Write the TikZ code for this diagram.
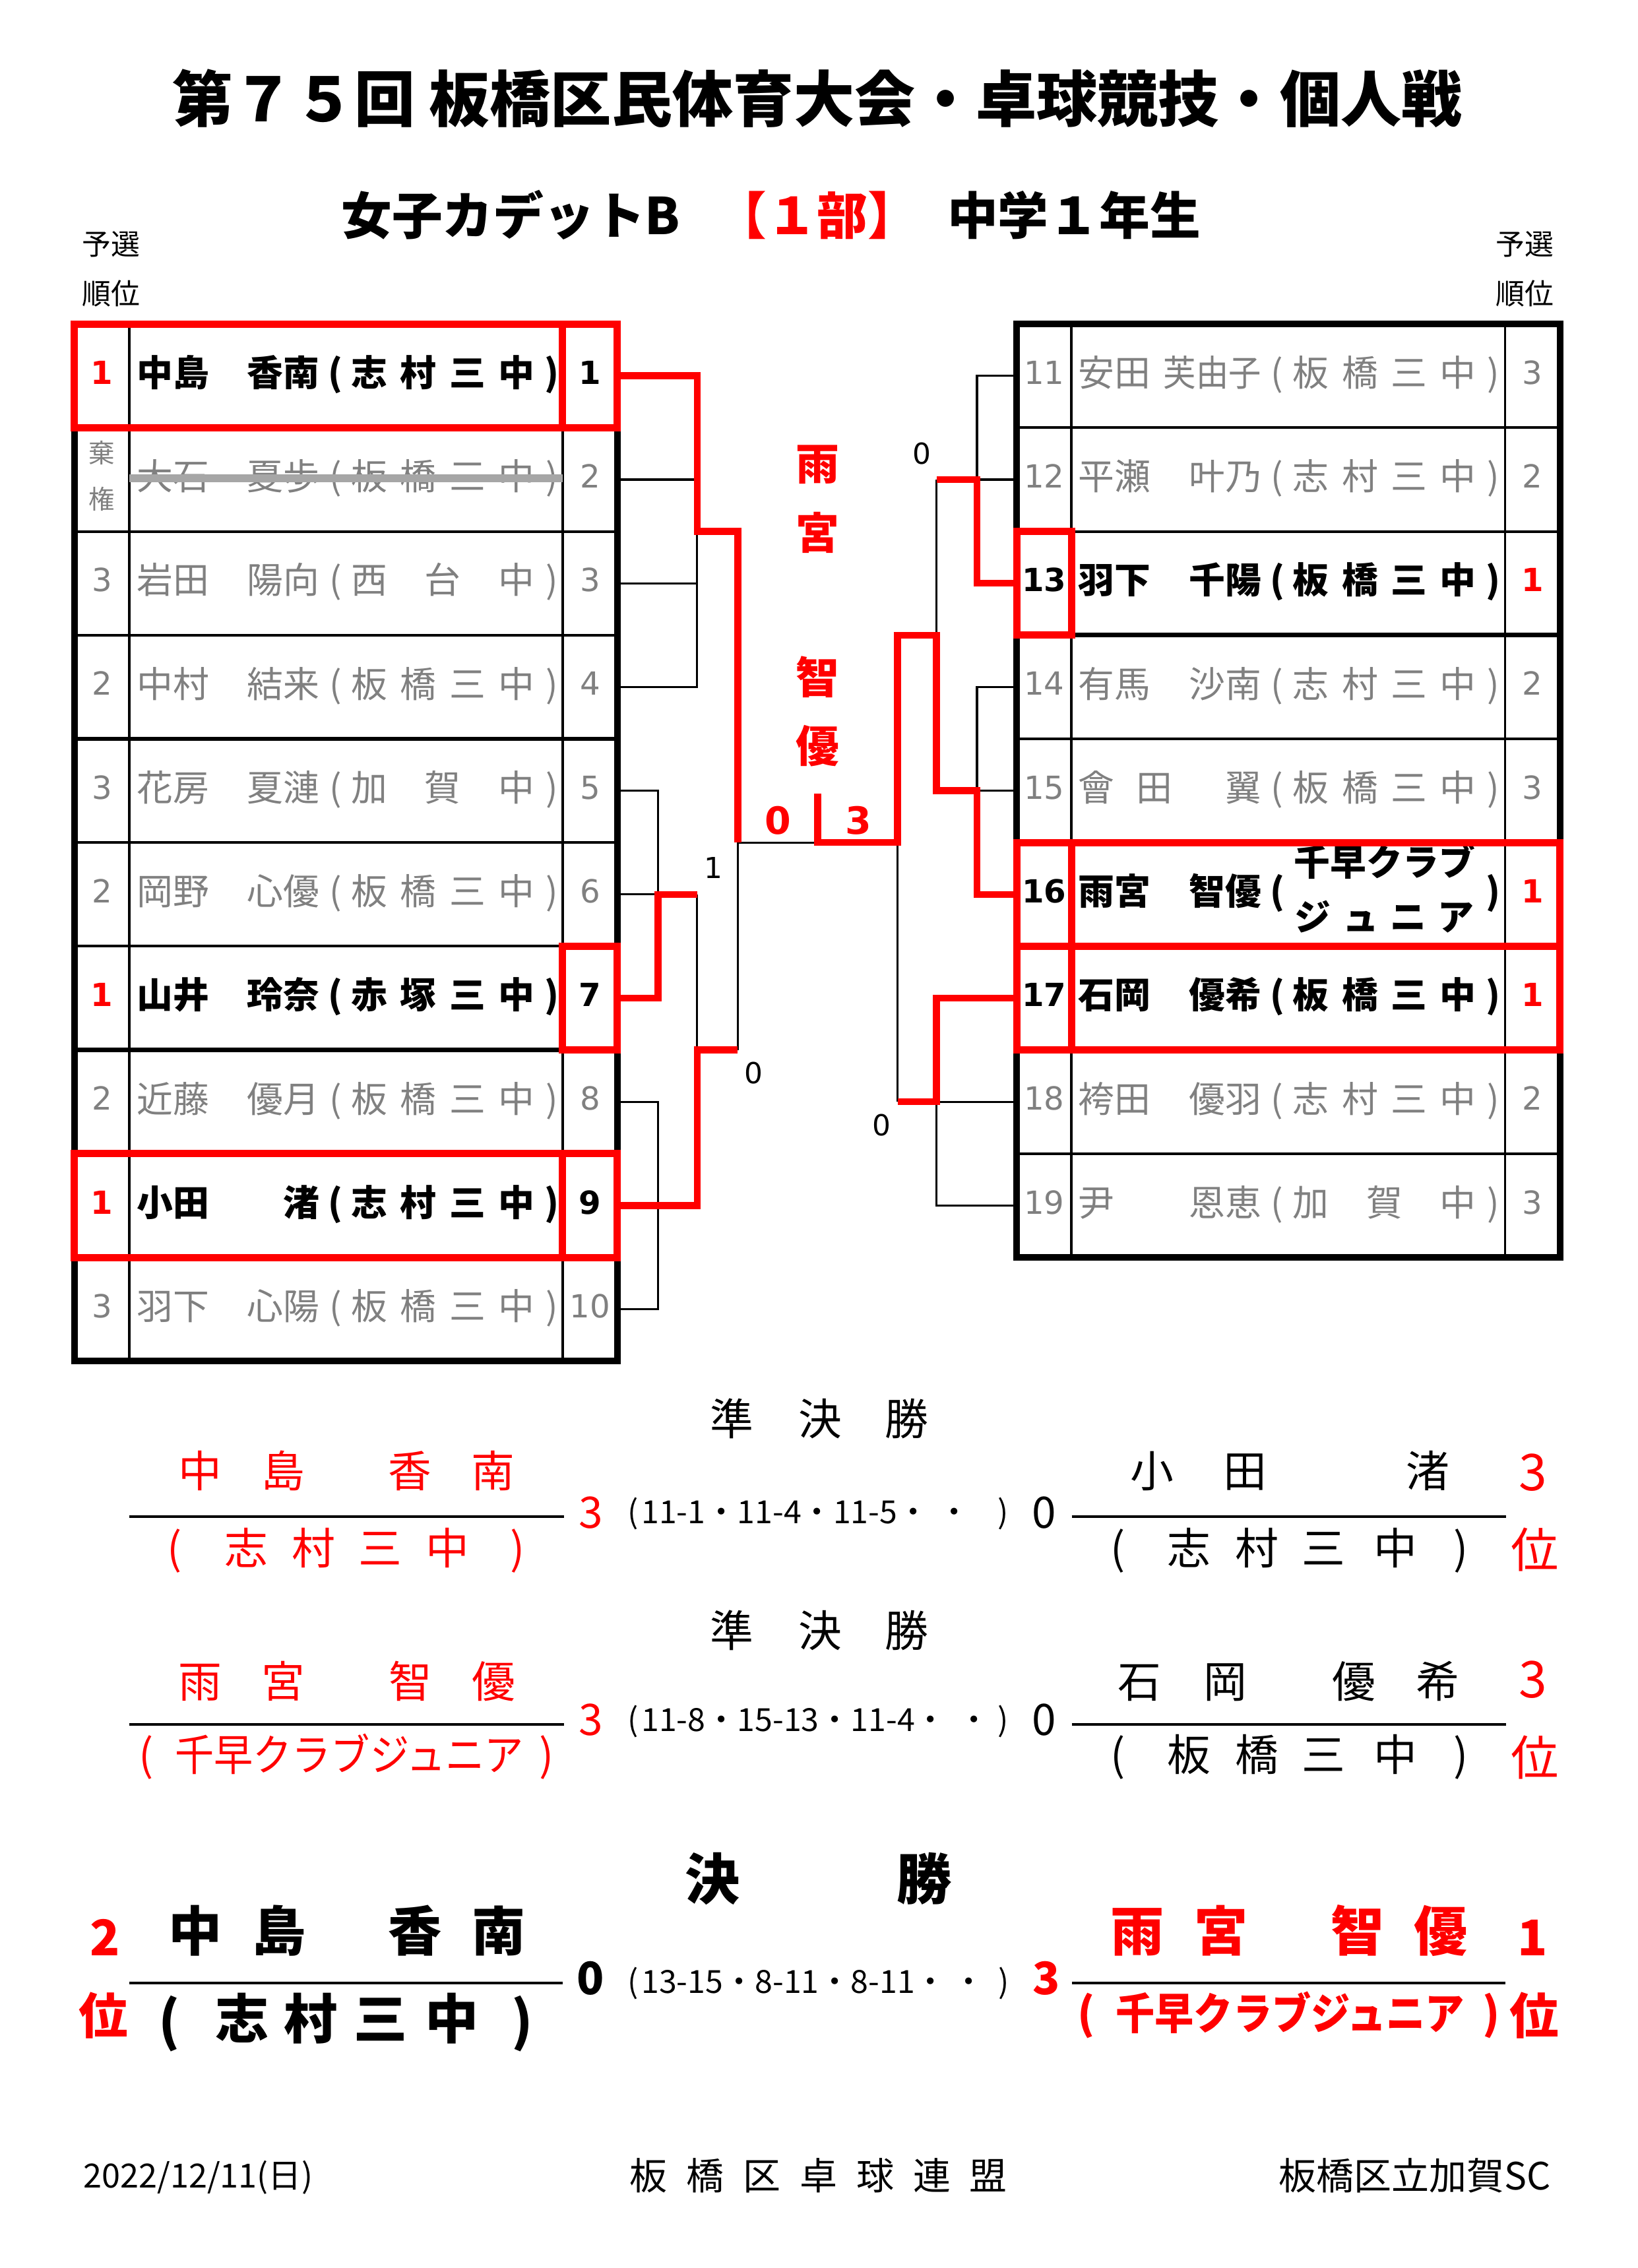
\documentclass[tikz,border=0pt]{standalone}
\usepackage{fontspec}
\usepackage{graphicx}
\setmainfont{Noto Sans CJK JP}
\newfontfamily\dv{DejaVu Sans}
\definecolor{myred}{RGB}{255,0,0}
\definecolor{tgray}{RGB}{128,128,128}
\definecolor{strk}{RGB}{166,166,166}
\newcommand\pname[6]{%
  \node[#4,anchor=west] (fam#1) at ({#2+94.5},#3) {#5};
  \node[#4,anchor=east] (giv#1) at ({#2+221},#3) {#6};
  \node[#4] (lp#1) at ({#2+232},#3) {(};
  \node[#4] (rp#1) at ({#2+381.5},#3) {)};}
\newcommand\sfour[8]{%
  \node[#4] (sa#1) at ({#2+255.4},#3) {#5};
  \node[#4] (sb#1) at ({#2+289.3},#3) {#6};
  \node[#4] (sc#1) at ({#2+323.2},#3) {#7};
  \node[#4] (sd#1) at ({#2+357.1},#3) {#8};}
\newcommand\sthree[7]{%
  \node[#4] (sa#1) at ({#2+255.4},#3) {#5};
  \node[#4] (sb#1) at ({#2+306.2},#3) {#6};
  \node[#4] (sc#1) at ({#2+357.1},#3) {#7};}
\begin{document}
\begin{tikzpicture}[x=0.5pt,y=-0.5pt,
  every node/.style={inner sep=0pt,outer sep=0pt},
  jp/.style n args={3}{font=\fontsize{#1pt}{#1pt}\selectfont#2,text height=0.88*#1pt,text depth=0.12*#1pt,text=#3},
  dg/.style n args={3}{font=\dv\fontsize{#1pt}{#1pt}\selectfont#2,text height=0.73*#1pt,text depth=0pt,text=#3},
  tg/.style={jp={12.5}{}{tgray},yshift=1.15pt},
  tb/.style={jp={12.5}{\bfseries}{black},yshift=1.15pt},
  cell/.style={minimum width=18.9pt,minimum height=35.85pt},
  ng/.style={cell,dg={11}{}{tgray},text depth=2.3pt},
  nb/.style={cell,dg={11}{\bfseries}{black},text depth=2.3pt},
  nr/.style={cell,dg={11}{\bfseries}{myred},text depth=2.3pt},
  lbl/.style={dg={10}{}{black}},
  semi/.style={jp={15}{}{black}},
  semir/.style={jp={15}{}{myred}},
  fin/.style={jp={18.5}{\bfseries}{black}},
  finr/.style={jp={18.5}{\bfseries}{myred}},
  score/.style={jp={11}{}{black}},
  outer/.style={line width=2.3pt},
  rowl/.style={line width=0.9pt},
  grpl/.style={line width=1.5pt},
  coll/.style={line width=0.8pt},
  redbox/.style={draw=myred,line width=2.5pt},
  blk/.style={line width=0.75pt},
  rd/.style={draw=myred,line width=2.4pt},
  resl/.style={line width=1pt}]
\path[use as bounding box,fill=white] (0,0) rectangle (1132,1568);

% ---------- header ----------
\node[jp={21}{\bfseries}{black}] (title) at (565,68) {第７５回 板橋区民体育大会・卓球競技・個人戦};
\node[jp={17.5}{\bfseries}{black},anchor=west] (sub1) at (236,149) {女子カデットB};
\node[jp={17.5}{\bfseries}{myred}] (sub2) at (565,149) {【１部】};
\node[jp={17.5}{\bfseries}{black},anchor=west] (sub3) at (655,149) {中学１年生};
\node[jp={10}{}{black}] (yoL) at (77,168.6) {予選};
\node[jp={10}{}{black}] (juL) at (77,203) {順位};
\node[jp={10}{}{black}] (yoR) at (1054,168.6) {予選};
\node[jp={10}{}{black}] (juR) at (1054,203) {順位};

% ---------- tables: grid ----------
\draw[outer] (51.5,224) rectangle (426.8,941);
\foreach \k in {1,2,3,5,6,8,9} \draw[rowl] (51.5,{224+71.7*\k}) -- (426.8,{224+71.7*\k});
\foreach \k in {4,7} \draw[grpl] (51.5,{224+71.7*\k}) -- (426.8,{224+71.7*\k});
\draw[coll] (89.4,224) -- (89.4,941) (389,224) -- (389,941);

\draw[outer] (703,224) rectangle (1078.5,869.3);
\foreach \k in {1,2,4,5,7,8} \draw[rowl] (703,{224+71.7*\k}) -- (1078.5,{224+71.7*\k});
\foreach \k in {3,6} \draw[grpl] (703,{224+71.7*\k}) -- (1078.5,{224+71.7*\k});
\draw[coll] (740.7,224) -- (740.7,869.3) (1040.5,224) -- (1040.5,869.3);

% ---------- left table text ----------
\pname{1}{0}{259.85}{tb}{中島}{香南}\sfour{1}{0}{259.85}{tb}{志}{村}{三}{中}
\pname{2}{0}{331.55}{tg}{大石}{夏歩}\sfour{2}{0}{331.55}{tg}{板}{橋}{三}{中}
\pname{3}{0}{403.25}{tg}{岩田}{陽向}\sthree{3}{0}{403.25}{tg}{西}{台}{中}
\pname{4}{0}{474.95}{tg}{中村}{結来}\sfour{4}{0}{474.95}{tg}{板}{橋}{三}{中}
\pname{5}{0}{546.65}{tg}{花房}{夏漣}\sthree{5}{0}{546.65}{tg}{加}{賀}{中}
\pname{6}{0}{618.35}{tg}{岡野}{心優}\sfour{6}{0}{618.35}{tg}{板}{橋}{三}{中}
\pname{7}{0}{690.05}{tb}{山井}{玲奈}\sfour{7}{0}{690.05}{tb}{赤}{塚}{三}{中}
\pname{8}{0}{761.75}{tg}{近藤}{優月}\sfour{8}{0}{761.75}{tg}{板}{橋}{三}{中}
\pname{9}{0}{833.45}{tb}{小田}{渚}\sfour{9}{0}{833.45}{tb}{志}{村}{三}{中}
\pname{10}{0}{905.15}{tg}{羽下}{心陽}\sfour{10}{0}{905.15}{tg}{板}{橋}{三}{中}

\foreach \i/\y/\s in {1/259.85/nb,2/331.55/ng,3/403.25/ng,4/474.95/ng,5/546.65/ng,6/618.35/ng,7/690.05/nb,8/761.75/ng,9/833.45/nb,10/905.15/ng}
  \node[\s] (L\i) at (407.9,\y) {\i};
\foreach \i/\y/\s/\t in {1/259.85/nr/1,3/403.25/ng/3,4/474.95/ng/2,5/546.65/ng/3,6/618.35/ng/2,7/690.05/nr/1,8/761.75/ng/2,9/833.45/nr/1,10/905.15/ng/3}
  \node[\s] (K\i) at (70.45,\y) {\t};
\node[jp={9}{}{tgray}] (K2a) at (70.45,313) {棄};
\node[jp={9}{}{tgray}] (K2b) at (70.45,345) {権};

% ---------- right table text ----------
\pname{11}{651}{259.85}{tg}{安田}{\scalebox{0.9}[1]{芙由子}}\sfour{11}{651}{259.85}{tg}{板}{橋}{三}{中}
\pname{12}{651}{331.55}{tg}{平瀬}{叶乃}\sfour{12}{651}{331.55}{tg}{志}{村}{三}{中}
\pname{13}{651}{403.25}{tb}{羽下}{千陽}\sfour{13}{651}{403.25}{tb}{板}{橋}{三}{中}
\pname{14}{651}{474.95}{tg}{有馬}{沙南}\sfour{14}{651}{474.95}{tg}{志}{村}{三}{中}
\pname{15}{651}{546.65}{tg}{會\hspace{7.5pt}田}{翼}\sfour{15}{651}{546.65}{tg}{板}{橋}{三}{中}
\pname{16}{651}{618.35}{tb}{雨宮}{智優}
\node[jp={12.5}{\bfseries}{black}] (sch16a) at (957.2,596) {千早クラブ};
\node[jp={12.5}{\bfseries}{black}] (sch16b) at (957.2,634) {\makebox[62pt][s]{ジ\hfill ュ\hfill ニ\hfill ア}};
\pname{17}{651}{690.05}{tb}{石岡}{優希}\sfour{17}{651}{690.05}{tb}{板}{橋}{三}{中}
\pname{18}{651}{761.75}{tg}{袴田}{優羽}\sfour{18}{651}{761.75}{tg}{志}{村}{三}{中}
\pname{19}{651}{833.45}{tg}{尹}{恩恵}\sthree{19}{651}{833.45}{tg}{加}{賀}{中}

\foreach \i/\y/\s in {11/259.85/ng,12/331.55/ng,13/403.25/nb,14/474.95/ng,15/546.65/ng,16/618.35/nb,17/690.05/nb,18/761.75/ng,19/833.45/ng}
  \node[\s] (R\i) at (721.85,\y) {\i};
\foreach \i/\y/\s/\t in {11/259.85/ng/3,12/331.55/ng/2,13/403.25/nr/1,14/474.95/ng/2,15/546.65/ng/3,16/618.35/nr/1,17/690.05/nr/1,18/761.75/ng/2,19/833.45/ng/3}
  \node[\s] (K\i) at (1059.5,\y) {\t};

% strike-through (withdrawn)
\draw[strk,line width=2.7pt] (89.4,330.8) -- (389,330.8);

% ---------- red highlight boxes ----------
\draw[redbox] (51.5,224) rectangle (426.8,295.7) (389,224) -- (389,295.7);
\draw[redbox] (389,654.2) rectangle (426.8,725.9);
\draw[redbox] (51.5,797.6) rectangle (426.8,869.3) (389,797.6) -- (389,869.3);
\draw[redbox] (703,367.4) rectangle (740.7,439.1);
\draw[redbox] (703,582.5) rectangle (1078.5,654.2) (740.7,582.5) -- (740.7,654.2);
\draw[redbox] (703,654.2) rectangle (1078.5,725.9) (740.7,654.2) -- (740.7,725.9);

% ---------- bracket ----------
\coordinate (xa) at (455,0);
\coordinate (xb) at (482,0);
\coordinate (xc) at (510,0);
\coordinate (xm) at (565.2,0);
\coordinate (xd) at (675.5,0);
\coordinate (xe) at (647.5,0);
\coordinate (xf) at (620.5,0);
\coordinate (ymid) at (0,582.5);
\coordinate (yg1) at (0,367.4);
\coordinate (yg2) at (0,725.9);
\coordinate (yg3) at (0,439.1);
\coordinate (ytop) at (0,548.7);

% black lines
\draw[blk] (L2.east) -- (L2.east -| xb);
\draw[blk] (L3.east) -- (L3.east -| xb);
\draw[blk] (L4.east) -- (L4.east -| xb) -- (xb |- yg1);
\draw[blk] (xc |- ymid) -- (xm |- ymid);
\draw[blk] (L5.east) -- (L5.east -| xa) -- (xa |- L6.east) -- (L6.east);
\draw[blk] (xb |- L6.east) -- (xb |- yg2);
\draw[blk] (xc |- yg2) -- (xc |- ymid);
\draw[blk] (L8.east) -- (L8.east -| xa) -- (xa |- L10.east) -- (L10.east);

\draw[blk] (R11.west) -- (R11.west -| xd) -- (xd |- R12.west) -- (R12.west);
\draw[blk] (xe |- R12.west) -- (xe |- yg3);
\draw[blk] (R14.west) -- (R14.west -| xd) -- (xd |- R15.west) -- (R15.west);
\draw[blk] (xf |- ymid) -- (xf |- R18.west);
\draw[blk] (R18.west) -- (R18.west -| xe) -- (xe |- R19.west) -- (R19.west);

% red (winner) lines
\draw[rd] (L1.east) -- (L1.east -| xb) -- (xb |- yg1) -- (xc |- yg1) -- (xc |- ymid);
\draw[rd] (L7.east) -- (L7.east -| xa) -- (xa |- L6.east) -- (xb |- L6.east);
\draw[rd] (L9.east) -- (L9.east -| xb) -- (xb |- yg2) -- (xc |- yg2);
\draw[rd] (R13.west) -- (R13.west -| xd) -- (xd |- R12.west) -- (xe |- R12.west);
\draw[rd] (R16.west) -- (R16.west -| xd) -- (xd |- R15.west) -- (xe |- R15.west) -- (xe |- yg3) -- (xf |- yg3) -- (xf |- ymid) -- (xm |- ymid) -- (xm |- ytop);
\draw[rd] (R17.west) -- (R17.west -| xe) -- (xe |- R18.west) -- (xf |- R18.west);

% score labels
\node[lbl] (g1) at (493,600) {1};
\node[lbl] (g2) at (521,742) {0};
\node[lbl] (g3) at (637.5,313.6) {0};
\node[lbl] (g4) at (609.6,778) {0};
\node[dg={13}{\bfseries}{myred}] (fs0) at (538,567) {0};
\node[dg={13}{\bfseries}{myred}] (fs3) at (593.3,567) {3};
\node[jp={15}{\bfseries}{myred}] (ch1) at (565.3,320.5) {雨};
\node[jp={15}{\bfseries}{myred}] (ch2) at (565.3,368.5) {宮};
\node[jp={15}{\bfseries}{myred}] (ch3) at (565.3,468) {智};
\node[jp={15}{\bfseries}{myred}] (ch4) at (565.3,515.8) {優};

% ---------- semifinal 1 ----------
\node[semi] (sa1) at (506,981) {準};
\node[semi] (sa2) at (567,981) {決};
\node[semi] (sa3) at (627,981) {勝};
\node[semir] (a1) at (138.4,1017) {中};
\node[semir] (a2) at (195.9,1017) {島};
\node[semir] (a3) at (283.6,1017) {香};
\node[semir] (a4) at (340.9,1017) {南};
\node[semir] (a5) at (120.5,1070) {(};
\node[semir] (a6) at (170.5,1070) {志};
\node[semir] (a7) at (216.7,1070) {村};
\node[semir] (a8) at (263,1070) {三};
\node[semir] (a9) at (309.6,1070) {中};
\node[semir] (a10) at (357.8,1070) {)};
\node[semir] (a11) at (408.5,1045) {3};
\node[score] (a12) at (437.6,1045) {(};
\node[score,anchor=west] (a13) at (443.5,1045) {11-1・11-4・11-5・};
\node[score] (a14) at (659.8,1045) {・};
\node[score] (a15) at (693.5,1045) {)};
\node[semi] (a16) at (722,1045) {0};
\node[semi] (b1) at (796.5,1017) {小};
\node[semi] (b2) at (860.8,1017) {田};
\node[semi] (b3) at (987.3,1017) {渚};
\node[jp={17.5}{}{myred}] (b4) at (1060,1017) {3};
\node[semi] (b5) at (773,1070) {(};
\node[semi] (b6) at (822,1070) {志};
\node[semi] (b7) at (869,1070) {村};
\node[semi] (b8) at (915,1070) {三};
\node[semi] (b9) at (965,1070) {中};
\node[semi] (b10) at (1010,1070) {)};
\node[jp={16.5}{}{myred}] (b11) at (1061,1071.5) {位};
\coordinate (s1l1) at (89.6,1048.5);
\coordinate (s1l2) at (390,1048.5);
\coordinate (s1r1) at (741,1048.5);
\coordinate (s1r2) at (1041,1048.5);
\draw[resl] (s1l1) -- (s1l2);
\draw[resl] (s1r1) -- (s1r2);

% ---------- semifinal 2 ----------
\node[semi] (sb1) at (506,1127) {準};
\node[semi] (sb2) at (567,1127) {決};
\node[semi] (sb3) at (627,1127) {勝};
\node[semir] (c1) at (138.4,1162.3) {雨};
\node[semir] (c2) at (196,1162.3) {宮};
\node[semir] (c3) at (284,1162.3) {智};
\node[semir] (c4) at (341.5,1162.3) {優};
\node[semir] (c5a) at (101,1213) {(};
\node[semir] (c5) at (241.5,1213) {\scalebox{0.9}[1]{千早クラブジュニア}};
\node[semir] (c5b) at (378,1213) {)};
\node[semir] (c6) at (408.5,1188.4) {3};
\node[score] (c7) at (437.6,1188.4) {(};
\node[score,anchor=west] (c8) at (443.5,1188.4) {11-8・15-13・11-4・};
\node[score] (c9) at (673.6,1188.4) {・};
\node[score] (c10) at (693.5,1188.4) {)};
\node[semi] (c11) at (722,1188.4) {0};
\node[semi] (d1) at (788,1162.3) {石};
\node[semi] (d2) at (847,1162.3) {岡};
\node[semi] (d3) at (936,1162.3) {優};
\node[semi] (d4) at (994,1162.3) {希};
\node[jp={17.5}{}{myred}] (d5) at (1060,1160.4) {3};
\node[semi] (d6) at (773,1213) {(};
\node[semi] (d7) at (822,1213) {板};
\node[semi] (d8) at (869,1213) {橋};
\node[semi] (d9) at (915,1213) {三};
\node[semi] (d10) at (965,1213) {中};
\node[semi] (d11) at (1010,1213) {)};
\node[jp={16.5}{}{myred}] (d12) at (1061,1215) {位};
\coordinate (s2l1) at (89.6,1192.1);
\coordinate (s2l2) at (390,1192.1);
\coordinate (s2r1) at (741,1192.1);
\coordinate (s2r2) at (1041,1192.1);
\draw[resl] (s2l1) -- (s2l2);
\draw[resl] (s2r1) -- (s2r2);

% ---------- final ----------
\node[jp={19}{\bfseries}{black}] (fa1) at (492.7,1299) {決};
\node[jp={19}{\bfseries}{black}] (fa2) at (639,1299) {勝};
\node[jp={17}{\bfseries}{myred}] (e0) at (72.6,1339) {2};
\node[jp={17}{\bfseries}{myred}] (e00) at (71.6,1393.4) {位};
\node[fin] (e1) at (135.2,1334.7) {中};
\node[fin] (e2) at (193,1334.7) {島};
\node[fin] (e3) at (286.8,1334.7) {香};
\node[fin] (e4) at (345,1334.7) {南};
\node[fin] (e5) at (117,1397) {(};
\node[fin] (e6) at (167.6,1395.3) {志};
\node[fin] (e7) at (215,1395.3) {村};
\node[fin] (e8) at (263,1395.3) {三};
\node[fin] (e9) at (312.3,1395.3) {中};
\node[fin] (e10) at (361,1397) {)};
\node[jp={15.5}{\bfseries}{black}] (e11) at (408.3,1367.3) {0};
\node[score] (e12) at (437.6,1369.5) {(};
\node[score,anchor=west] (e13) at (443.5,1369.5) {13-15・8-11・8-11・};
\node[score] (e14) at (669.8,1369.5) {・};
\node[score] (e15) at (694.2,1369.5) {)};
\node[jp={15.5}{\bfseries}{myred}] (e16) at (723.2,1367.3) {3};
\node[finr] (f1) at (786.4,1334.7) {雨};
\node[finr] (f2) at (844,1334.7) {宮};
\node[finr] (f3) at (938.7,1334.7) {智};
\node[finr] (f4) at (995.9,1334.7) {優};
\node[jp={17}{\bfseries}{myred}] (f5) at (1059.5,1339) {1};
\node[jp={15}{\bfseries}{myred}] (f6a) at (751,1391.9) {(};
\node[jp={15}{\bfseries}{myred}] (f6) at (892,1391.9) {\scalebox{0.9}[1]{千早クラブジュニア}};
\node[jp={15}{\bfseries}{myred}] (f6b) at (1031,1391.9) {)};
\node[jp={17}{\bfseries}{myred}] (f7) at (1060.6,1393.4) {位};
\coordinate (fl1) at (89.6,1371);
\coordinate (fl2) at (389.2,1371);
\coordinate (fr1) at (741.2,1371);
\coordinate (fr2) at (1040.8,1371);
\draw[resl] (fl1) -- (fl2);
\draw[resl] (fr1) -- (fr2);

% ---------- footer ----------
\node[jp={11.5}{}{black}] (date) at (137,1504) {2022/12/11(日)};
\foreach \c [count=\n from 0] in {板,橋,区,卓,球,連,盟}
  \node[jp={13}{}{black}] (ft\n) at ({448.4+39.17*\n},1504) {\c};
\node[jp={13}{}{black}] (club) at (978,1504) {板橋区立加賀SC};
\end{tikzpicture}
\end{document}
